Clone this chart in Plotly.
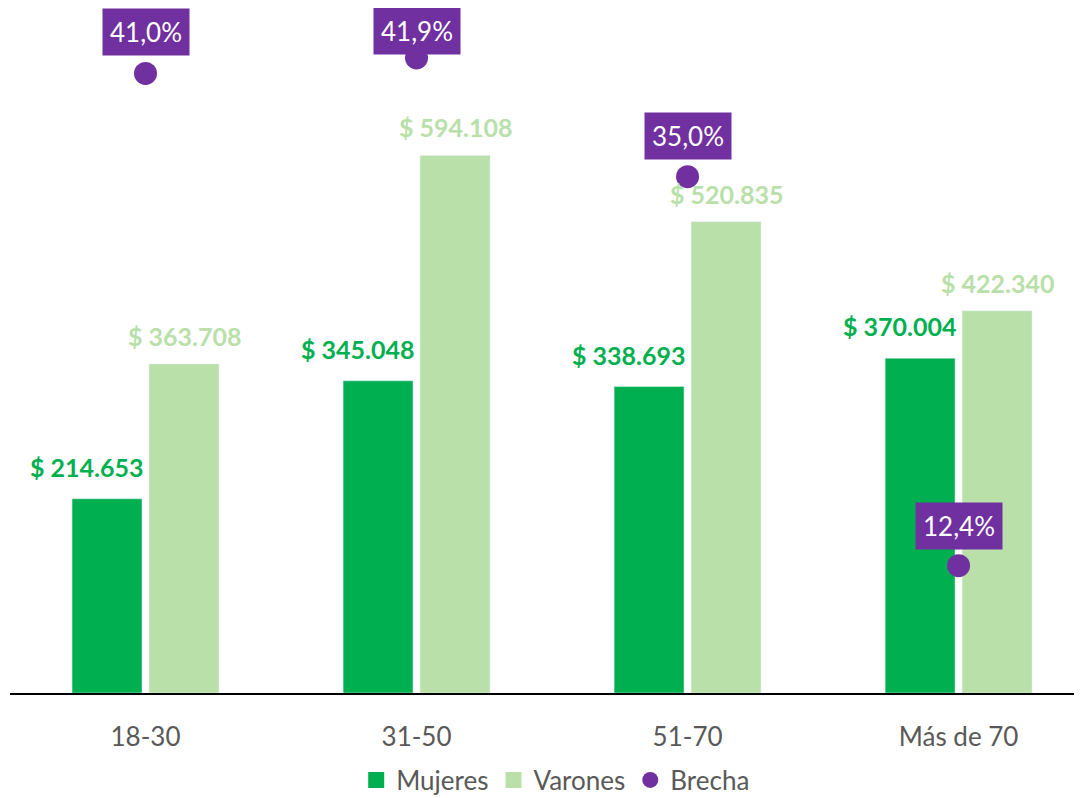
import plotly.graph_objects as go

categories = ["18-30", "31-50", "51-70", "Más de 70"]
mujeres = [214653, 345048, 338693, 370004]
varones = [363708, 594108, 520835, 422340]
brecha = [0.410, 0.419, 0.350, 0.124]
mujeres_labels = ["$ 214.653", "$ 345.048", "$ 338.693", "$ 370.004"]
varones_labels = ["$ 363.708", "$ 594.108", "$ 520.835", "$ 422.340"]
brecha_labels = ["41,0%", "41,9%", "35,0%", "12,4%"]

DARK = "#00B050"
LIGHT = "#B8E0A8"
PURPLE = "#7030A0"
GRAY = "#595959"
FONT = "Lato"

x = list(range(len(categories)))
BW = 0.258

fig = go.Figure()
fig.add_trace(go.Bar(x=x, y=mujeres, name="Mujeres", marker_color=DARK,
                     width=BW, offset=-0.271, showlegend=False))
fig.add_trace(go.Bar(x=x, y=varones, name="Varones", marker_color=LIGHT,
                     width=BW, offset=0.013, showlegend=False))
fig.add_trace(go.Scatter(x=x, y=brecha, name="Brecha", mode="markers", yaxis="y2",
                         marker=dict(color=PURPLE, size=23), cliponaxis=False,
                         showlegend=False))
# legend entries
fig.add_trace(go.Scatter(x=[None], y=[None], name="Mujeres", mode="markers",
                         marker=dict(color=DARK, symbol="square", size=16)))
fig.add_trace(go.Scatter(x=[None], y=[None], name="Varones", mode="markers",
                         marker=dict(color=LIGHT, symbol="square", size=16)))
fig.add_trace(go.Scatter(x=[None], y=[None], name="Brecha", mode="markers",
                         marker=dict(color=PURPLE, symbol="circle", size=18)))

ann = []
for i in x:
    ann.append(dict(x=i - 0.142 - 0.075, y=mujeres[i], xref="x", yref="y",
                    text=mujeres_labels[i], showarrow=False, yshift=32,
                    font=dict(family=FONT, size=25, color=DARK, weight="bold")))
    ann.append(dict(x=i + 0.142 + 0.005, y=varones[i], xref="x", yref="y",
                    text=varones_labels[i], showarrow=False, yshift=28,
                    font=dict(family=FONT, size=25, color=LIGHT, weight="bold")))
shifts = [41, 27, 41, 40]
for i in x:
    ann.append(dict(x=i, y=brecha[i], xref="x", yref="y2",
                    text=brecha_labels[i], showarrow=False, yshift=shifts[i],
                    bgcolor=PURPLE, borderpad=7,
                    font=dict(family=FONT, size=26, color="white")))

fig.update_layout(
    width=1074, height=790,
    margin=dict(l=2, r=2, t=0, b=105, autoexpand=False),
    plot_bgcolor="white", paper_bgcolor="white",
    barmode="overlay",
    showlegend=True,
    legend=dict(orientation="h", x=0.51, xanchor="center", y=-0.127, yanchor="middle",
                font=dict(family=FONT, size=26, color=GRAY), itemsizing="trace"),
    xaxis=dict(range=[-0.5, 3.448], tickvals=x, ticktext=categories,
               showgrid=False, zeroline=False, showline=True, linecolor="black",
               linewidth=1.5, ticks="", ticklabelstandoff=20,
               tickfont=dict(family=FONT, size=26, color=GRAY)),
    yaxis=dict(range=[0, 757000], visible=False, showgrid=False),
    yaxis2=dict(range=[0.05, 0.448], overlaying="y", visible=False, showgrid=False),
    annotations=ann,
    font=dict(family=FONT),
)

fig.write_html("out.html")
